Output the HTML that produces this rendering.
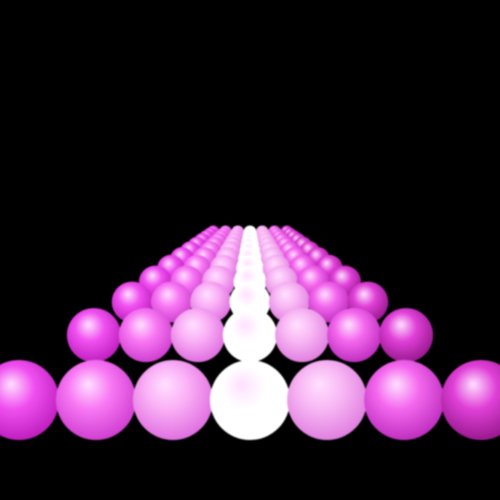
<!DOCTYPE html>
<html><head><meta charset="utf-8"><style>
html,body{margin:0;padding:0;background:#000;width:500px;height:500px;overflow:hidden}
</style></head><body>
<svg id="scene" width="500" height="500" viewBox="0 0 500 500" xmlns="http://www.w3.org/2000/svg">
<defs id="defs"><filter id="blur"><feGaussianBlur stdDeviation="0.8"/></filter></defs>
<rect width="500" height="500" fill="#000"/>
<g id="balls" filter="url(#blur)"></g>
</svg>
<script>
const columns = [-3,-2,-1,0,1,2,3];
const rowCount = 12;
const baseColors = ['#f050f0','#f878f4','#fab0f6','#ffffff','#f8b8f4','#f468ee','#e040d8'];
const darkColors = ['#c020c0','#d040d0','#e070e0','#ffffff','#e080e0','#c030c0','#9a1a90'];
const ns = 'http://www.w3.org/2000/svg';
const defs = document.getElementById('defs');
const g = document.getElementById('balls');
columns.forEach((c,i)=>{
  const gr = document.createElementNS(ns,'radialGradient');
  gr.setAttribute('id','g'+i);
  gr.setAttribute('cx','0.45');gr.setAttribute('cy','0.4');gr.setAttribute('r','0.6');
  gr.setAttribute('fx','0.4');gr.setAttribute('fy','0.3');
  [['0','#ffe0ff',1],['0.45',baseColors[i],1],['1',darkColors[i],1]].forEach(s=>{
    const st=document.createElementNS(ns,'stop');
    st.setAttribute('offset',s[0]);st.setAttribute('stop-color',s[1]);st.setAttribute('stop-opacity',s[2]);
    gr.appendChild(st);
  });
  defs.appendChild(gr);
});
const horizonY = 200, cx0 = 250, frontY = 400, frontR = 40, spacing = 77;
for(let r=rowCount-1;r>=0;r--){
  const s = 1/(1+0.48*r);
  columns.forEach((c,i)=>{
    const el = document.createElementNS(ns,'circle');
    
    
    el.setAttribute('cx', cx0 + c*spacing*s);
    el.setAttribute('cy', horizonY + (frontY-horizonY)*s);
    el.setAttribute('r', frontR*s);
    el.setAttribute('fill','url(#g'+i+')');
    g.appendChild(el);
  });
}
</script>
</body></html>
